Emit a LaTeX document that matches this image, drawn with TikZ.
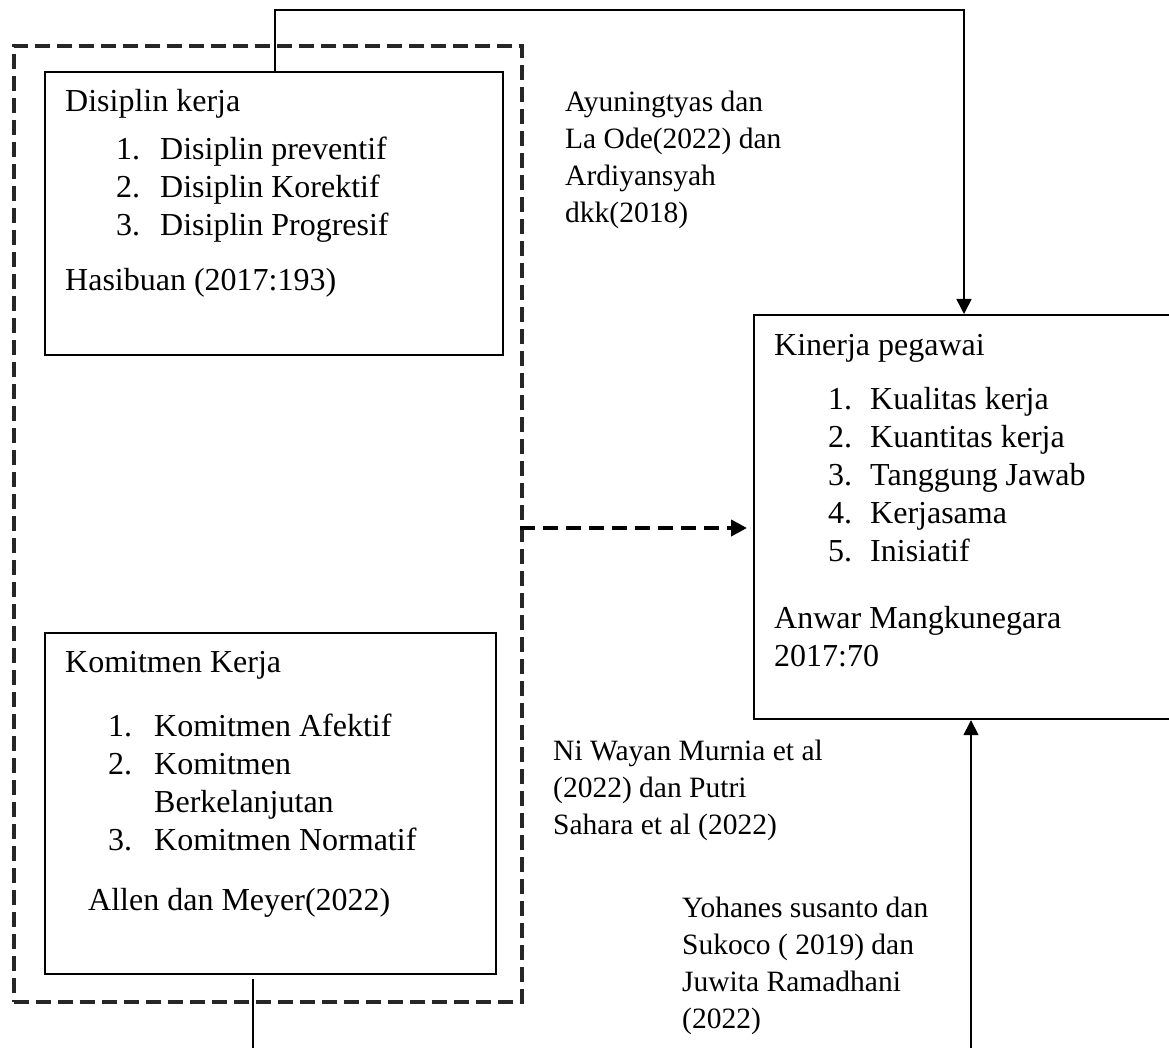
\documentclass[tikz,border=0pt]{standalone}
\usepackage{fontspec}
\setmainfont{Liberation Serif}
\usetikzlibrary{arrows.meta}
\begin{document}
\begin{tikzpicture}[x=1pt,y=-1pt,
  box/.style={draw=black,line width=1.8pt,inner sep=0pt,anchor=north west},
  group/.style={draw=black!85,line width=4pt,dash pattern=on 15pt off 7pt,inner sep=0pt,anchor=north west},
  txt/.style={anchor=base west,inner sep=0pt,font=\fontsize{32}{38}\selectfont},
  lbl/.style={anchor=base west,inner sep=0pt,font=\fontsize{29.5}{37}\selectfont},
  conn/.style={line width=1.6pt},
  tip/.style={-{Triangle[length=15pt,width=15pt]}},
  dasharrow/.style={line width=4pt,dash pattern=on 15pt off 8pt,-{Triangle[length=16pt,width=16pt]}}
]
\useasboundingbox (0,0) rectangle (1169,1048);
\fill[white] (0,0) rectangle (1169,1048);

% boxes
\node[group,minimum width=508pt,minimum height=956pt] (grp) at (12,44) {};
\node[box,minimum width=458pt,minimum height=283pt] (disiplin) at (44,71) {};
\node[box,minimum width=451pt,minimum height=341pt] (komitmen) at (44,632) {};
\node[box,line width=2.2pt,minimum width=430pt,minimum height=404pt] (kinerja) at (753,314) {};

% Disiplin text
\node[txt] (d0) at (65,112) {Disiplin kerja};
\node[txt] (d1n) at (116,160) {1.};
\node[txt] (d1) at (160,160) {Disiplin preventif};
\node[txt] (d2n) at (116,198) {2.};
\node[txt] (d2) at (160,198) {Disiplin Korektif};
\node[txt] (d3n) at (116,236) {3.};
\node[txt] (d3) at (160,236) {Disiplin Progresif};
\node[txt] (d4) at (65,291) {Hasibuan (2017:193)};

% Komitmen text
\node[txt] (k0) at (65,672) {Komitmen Kerja};
\node[txt] (k1n) at (108,736) {1.};
\node[txt] (k1) at (154,736) {Komitmen Afektif};
\node[txt] (k2n) at (108,774) {2.};
\node[txt] (k2) at (154,774) {Komitmen};
\node[txt] (k2b) at (154,812) {Berkelanjutan};
\node[txt] (k3n) at (108,850) {3.};
\node[txt] (k3) at (154,850) {Komitmen Normatif};
\node[txt] (k4) at (88,910) {Allen dan Meyer(2022)};

% Kinerja text
\node[txt] (p0) at (774,355) {Kinerja pegawai};
\node[txt] (p1n) at (828,409) {1.};
\node[txt] (p1) at (870,409) {Kualitas kerja};
\node[txt] (p2n) at (828,447) {2.};
\node[txt] (p2) at (870,447) {Kuantitas kerja};
\node[txt] (p3n) at (828,485) {3.};
\node[txt] (p3) at (870,485) {Tanggung Jawab};
\node[txt] (p4n) at (828,523) {4.};
\node[txt] (p4) at (870,523) {Kerjasama};
\node[txt] (p5n) at (828,561) {5.};
\node[txt] (p5) at (870,561) {Inisiatif};
\node[txt] (p6) at (774,628) {Anwar Mangkunegara};
\node[txt] (p7) at (774,666) {2017:70};

% free labels
\node[lbl] (a1) at (565,112) {Ayuningtyas dan};
\node[lbl] (a2) at (565,149) {La Ode(2022) dan};
\node[lbl] (a3) at (565,186) {Ardiyansyah};
\node[lbl] (a4) at (565,223) {dkk(2018)};

\node[lbl] (n1) at (553,760) {Ni Wayan Murnia et al};
\node[lbl] (n2) at (553,797) {(2022) dan Putri};
\node[lbl] (n3) at (553,834) {Sahara et al (2022)};

\node[lbl] (y1) at (682,917) {Yohanes susanto dan};
\node[lbl] (y2) at (682,954) {Sukoco ( 2019) dan};
\node[lbl] (y3) at (682,991) {Juwita Ramadhani};
\node[lbl] (y4) at (682,1028) {(2022)};

% connectors
\coordinate (ta) at (275,10);
\coordinate (tb) at (964,10);
\draw[conn,tip] (ta |- disiplin.north) -- (ta) -- (tb) -- (tb |- kinerja.north);
\coordinate (ba) at (971,1048);
\draw[conn,tip] (ba) -- (ba |- kinerja.south);
\coordinate (la) at (253,979);
\coordinate (lb) at (253,1048);
\draw[conn] (la) -- (lb);
\coordinate (da) at (520,528);
\draw[dasharrow,shorten >=6pt] (da) -- (da -| kinerja.west);
\end{tikzpicture}
\end{document}
